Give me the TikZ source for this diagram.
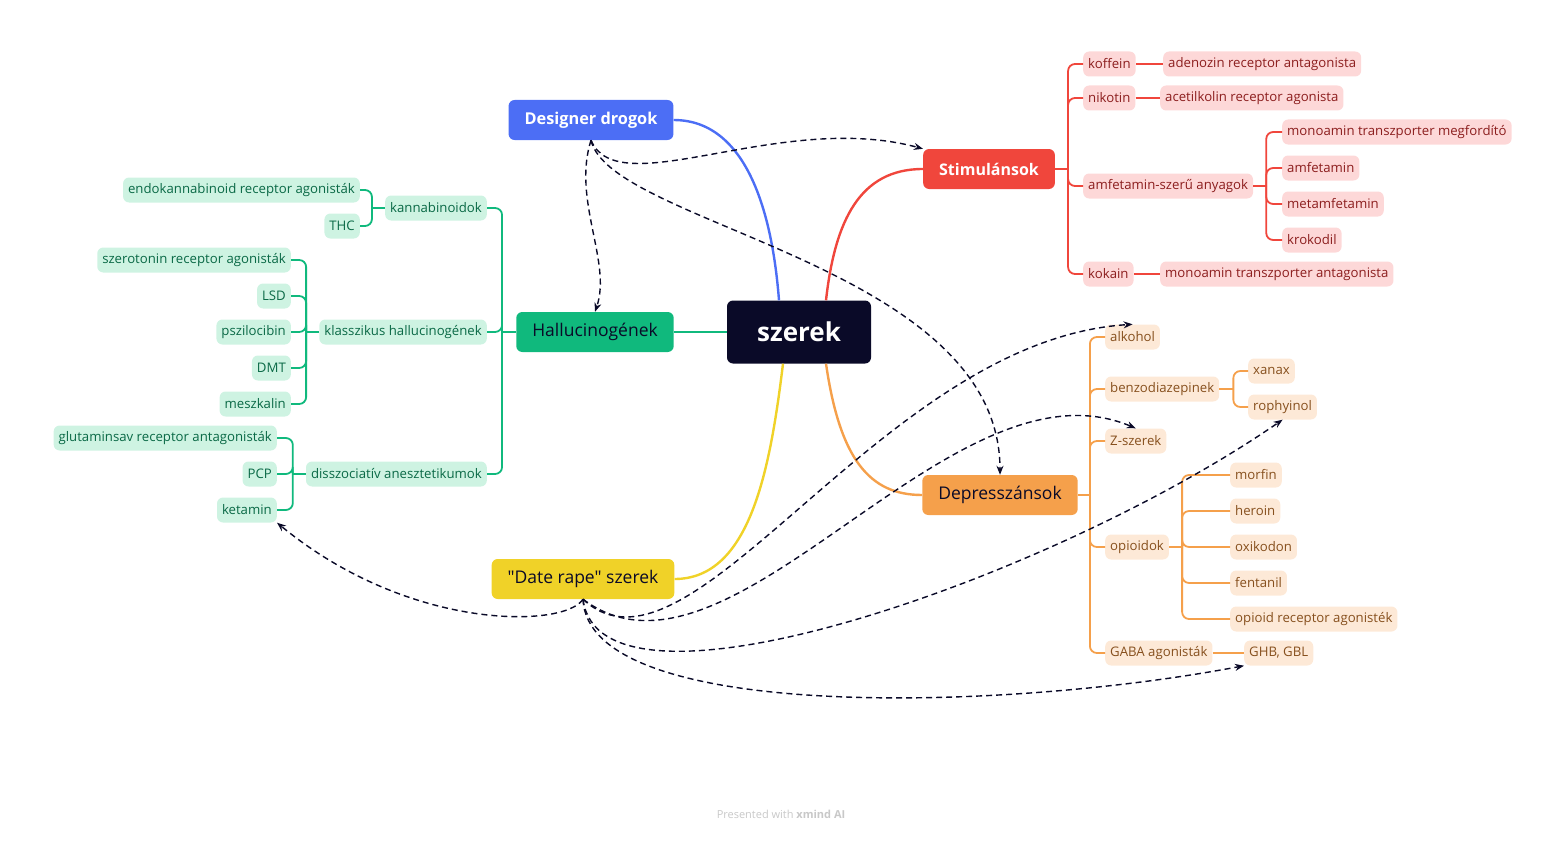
\documentclass[tikz,border=0pt]{standalone}
\usepackage{fontspec}
\setmainfont{Open Sans}[Ligatures=TeXOff]
\usetikzlibrary{arrows.meta, positioning}

\definecolor{coreink}{RGB}{10, 10, 40}
\definecolor{designblue}{RGB}{76, 110, 245}
\definecolor{stimred}{RGB}{240, 70, 60}
\definecolor{hallgreen}{RGB}{16, 185, 125}
\definecolor{deporange}{RGB}{245, 160, 75}
\definecolor{dateyellow}{RGB}{240, 210, 40}
\definecolor{stimfill}{RGB}{253, 216, 216}
\definecolor{stimtext}{RGB}{140, 30, 30}
\definecolor{hallfill}{RGB}{206, 243, 226}
\definecolor{halltext}{RGB}{10, 105, 70}
\definecolor{depfill}{RGB}{253, 233, 215}
\definecolor{deptext}{RGB}{135, 80, 30}
\definecolor{markgray}{RGB}{200, 200, 200}

\tikzset{
  topic/.style={rounded corners=6pt, minimum height=40pt, inner xsep=16pt, font=\fontsize{17.5}{20}\selectfont},
  leaf/.style={rounded corners=6pt, minimum height=25pt, inner xsep=5pt, inner ysep=2pt, font=\fontsize{13.2}{15}\selectfont},
  stimleaf/.style={leaf, fill=stimfill, text=stimtext},
  hallleaf/.style={leaf, fill=hallfill, text=halltext},
  depleaf/.style={leaf, fill=depfill, text=deptext},
  mainline/.style={line width=2.4pt},
  branch/.style={line width=1.8pt, rounded corners=7pt},
  link/.style={coreink, line width=1.4pt, dash pattern=on 6pt off 4pt, -{Stealth[length=9pt, width=7pt]}}
}

\begin{document}
\begin{tikzpicture}[x=1pt, y=-1pt]
  \useasboundingbox (0, 0) rectangle (1562, 840);

  % Center and main topics
  \node[topic, fill=coreink, text=white, minimum width=144pt, minimum height=63pt, font=\fontsize{26}{30}\selectfont\bfseries] (core) at (799, 332) {szerek};
  \node[topic, fill=designblue, text=white, font=\fontsize{16.3}{19}\selectfont\bfseries] (design) at (591, 120) {Designer drogok};
  \node[topic, fill=stimred, text=white, font=\fontsize{16}{19}\selectfont\bfseries] (stim) at (989, 169) {Stimulánsok};
  \node[topic, fill=hallgreen, text=coreink] (hall) at (595, 332) {Hallucinogének};
  \node[topic, fill=deporange, text=coreink] (dep) at (1000, 495) {Depresszánsok};
  \node[topic, fill=dateyellow, text=coreink] (date) at (583, 579) {"Date rape" szerek};

  % Main branches
  \draw[mainline, designblue] (design.east) .. controls (760, 120) and (775, 250) .. ([xshift=-20pt]core.north);
  \draw[mainline, stimred] ([xshift=27pt]core.north) .. controls (835, 220) and (860, 169) .. (stim.west);
  \draw[mainline, hallgreen] (core.west) -- (hall.east);
  \draw[mainline, deporange] ([xshift=27pt]core.south) .. controls (840, 460) and (870, 495) .. (dep.west);
  \draw[mainline, dateyellow] ([xshift=-16pt]core.south) .. controls (770, 470) and (750, 579) .. (date.east);

  % Stimulansok
  \node[stimleaf, anchor=west] (koffein) at (1083, 64) {koffein};
  \node[stimleaf, anchor=west] (adenozin) at (1163, 64) {adenozin receptor antagonista};
  \node[stimleaf, anchor=west] (nikotin) at (1083, 98) {nikotin};
  \node[stimleaf, anchor=west] (acetil) at (1160, 98) {acetilkolin receptor agonista};
  \node[stimleaf, anchor=west] (amfszeru) at (1083, 186) {amfetamin-szerű anyagok};
  \node[stimleaf, anchor=west] (megford) at (1282, 132) {monoamin transzporter megfordító};
  \node[stimleaf, anchor=west] (amfet) at (1282, 168) {amfetamin};
  \node[stimleaf, anchor=west] (metamf) at (1282, 204) {metamfetamin};
  \node[stimleaf, anchor=west] (krokodil) at (1282, 240) {krokodil};
  \node[stimleaf, anchor=west] (kokain) at (1083, 274) {kokain};
  \node[stimleaf, anchor=west] (antag) at (1160, 274) {monoamin transzporter antagonista};

  \draw[branch, stimred] (stim.east) -- ++(13, 0) coordinate (stimtrunk);
  \foreach \kid in {koffein, nikotin, amfszeru, kokain}
    \draw[branch, stimred] (stimtrunk) |- (\kid.west);
  \draw[branch, stimred] (amfszeru.east) -- ++(13, 0) coordinate (amftrunk);
  \foreach \kid in {megford, amfet, metamf, krokodil}
    \draw[branch, stimred] (amftrunk) |- (\kid.west);
  \draw[branch, stimred] (koffein) -- (adenozin);
  \draw[branch, stimred] (nikotin) -- (acetil);
  \draw[branch, stimred] (kokain) -- (antag);

  % Hallucinogenek
  \node[hallleaf, anchor=east] (kannab) at (487, 208) {kannabinoidok};
  \node[hallleaf, anchor=east] (endokan) at (360, 190) {endokannabinoid receptor agonisták};
  \node[hallleaf, anchor=east] (thc) at (360, 226) {THC};
  \node[hallleaf, anchor=east] (klassz) at (487, 332) {klasszikus hallucinogének};
  \node[hallleaf, anchor=east] (szeroton) at (291, 260) {szerotonin receptor agonisták};
  \node[hallleaf, anchor=east] (lsd) at (291, 296) {LSD};
  \node[hallleaf, anchor=east] (pszilo) at (291, 332) {pszilocibin};
  \node[hallleaf, anchor=east] (dmt) at (291, 368) {DMT};
  \node[hallleaf, anchor=east] (meszk) at (291, 404) {meszkalin};
  \node[hallleaf, anchor=east] (disszoc) at (487, 474) {disszociatív anesztetikumok};
  \node[hallleaf, anchor=east] (glutam) at (277, 438) {glutaminsav receptor antagonisták};
  \node[hallleaf, anchor=east] (pcp) at (277, 474) {PCP};
  \node[hallleaf, anchor=east] (ketamin) at (277, 510) {ketamin};

  \draw[branch, hallgreen] (hall.west) -- ++(-14, 0) coordinate (halltrunk);
  \foreach \kid in {kannab, klassz, disszoc}
    \draw[branch, hallgreen] (halltrunk) |- (\kid.east);
  \draw[branch, hallgreen] (kannab.west) -- ++(-13, 0) coordinate (kantrunk);
  \foreach \kid in {endokan, thc}
    \draw[branch, hallgreen] (kantrunk) |- (\kid.east);
  \draw[branch, hallgreen] (klassz.west) -- ++(-13, 0) coordinate (klatrunk);
  \foreach \kid in {szeroton, lsd, pszilo, dmt, meszk}
    \draw[branch, hallgreen] (klatrunk) |- (\kid.east);
  \draw[branch, hallgreen] (disszoc.west) -- ++(-13, 0) coordinate (distrunk);
  \foreach \kid in {glutam, pcp, ketamin}
    \draw[branch, hallgreen] (distrunk) |- (\kid.east);

  % Depresszansok
  \node[depleaf, anchor=west] (alkohol) at (1105, 337) {alkohol};
  \node[depleaf, anchor=west] (benzo) at (1105, 389) {benzodiazepinek};
  \node[depleaf, anchor=west] (xanax) at (1248, 371) {xanax};
  \node[depleaf, anchor=west] (rophy) at (1248, 407) {rophyinol};
  \node[depleaf, anchor=west] (zszer) at (1105, 441) {Z-szerek};
  \node[depleaf, anchor=west] (opio) at (1105, 547) {opioidok};
  \node[depleaf, anchor=west] (morfin) at (1230, 475) {morfin};
  \node[depleaf, anchor=west] (heroin) at (1230, 511) {heroin};
  \node[depleaf, anchor=west] (oxikod) at (1230, 547) {oxikodon};
  \node[depleaf, anchor=west] (fentan) at (1230, 583) {fentanil};
  \node[depleaf, anchor=west] (opiorec) at (1230, 619) {opioid receptor agonisték};
  \node[depleaf, anchor=west] (gaba) at (1105, 653) {GABA agonisták};
  \node[depleaf, anchor=west] (ghb) at (1244, 653) {GHB, GBL};

  \draw[branch, deporange] (dep.east) -- ++(12, 0) coordinate (deptrunk);
  \foreach \kid in {alkohol, benzo, zszer, opio, gaba}
    \draw[branch, deporange] (deptrunk) |- (\kid.west);
  \draw[branch, deporange] (benzo.east) -- ++(14, 0) coordinate (bentrunk);
  \foreach \kid in {xanax, rophy}
    \draw[branch, deporange] (bentrunk) |- (\kid.west);
  \draw[branch, deporange] (opio.east) -- ++(13, 0) coordinate (opitrunk);
  \foreach \kid in {morfin, heroin, oxikod, fentan, opiorec}
    \draw[branch, deporange] (opitrunk) |- (\kid.west);
  \draw[branch, deporange] (gaba) -- (ghb);

  % Cross links
  \draw[link] (design.south) .. controls (618, 205) and (780, 110) .. (stim.north west);
  \draw[link] (design.south) .. controls (572, 200) and (612, 262) .. (hall.north);
  \draw[link] (design.south) .. controls (610, 225) and (1000, 265) .. (dep.north);
  \draw[link] (date.south) .. controls (565, 628) and (410, 632) .. (ketamin.south east);
  \draw[link] (date.south) .. controls (690, 700) and (880, 340) .. (alkohol.north);
  \draw[link] (date.south) .. controls (730, 710) and (950, 350) .. (zszer.north);
  \draw[link] (date.south) .. controls (600, 735) and (1050, 580) .. (rophy.south);
  \draw[link] (date.south) .. controls (588, 722) and (1000, 712) .. (ghb.south west);

  % Footer
  \node[font=\fontsize{11}{13}\selectfont, text=markgray] (footer) at (781, 814) {Presented with \textbf{xmind AI}};
\end{tikzpicture}
\end{document}
